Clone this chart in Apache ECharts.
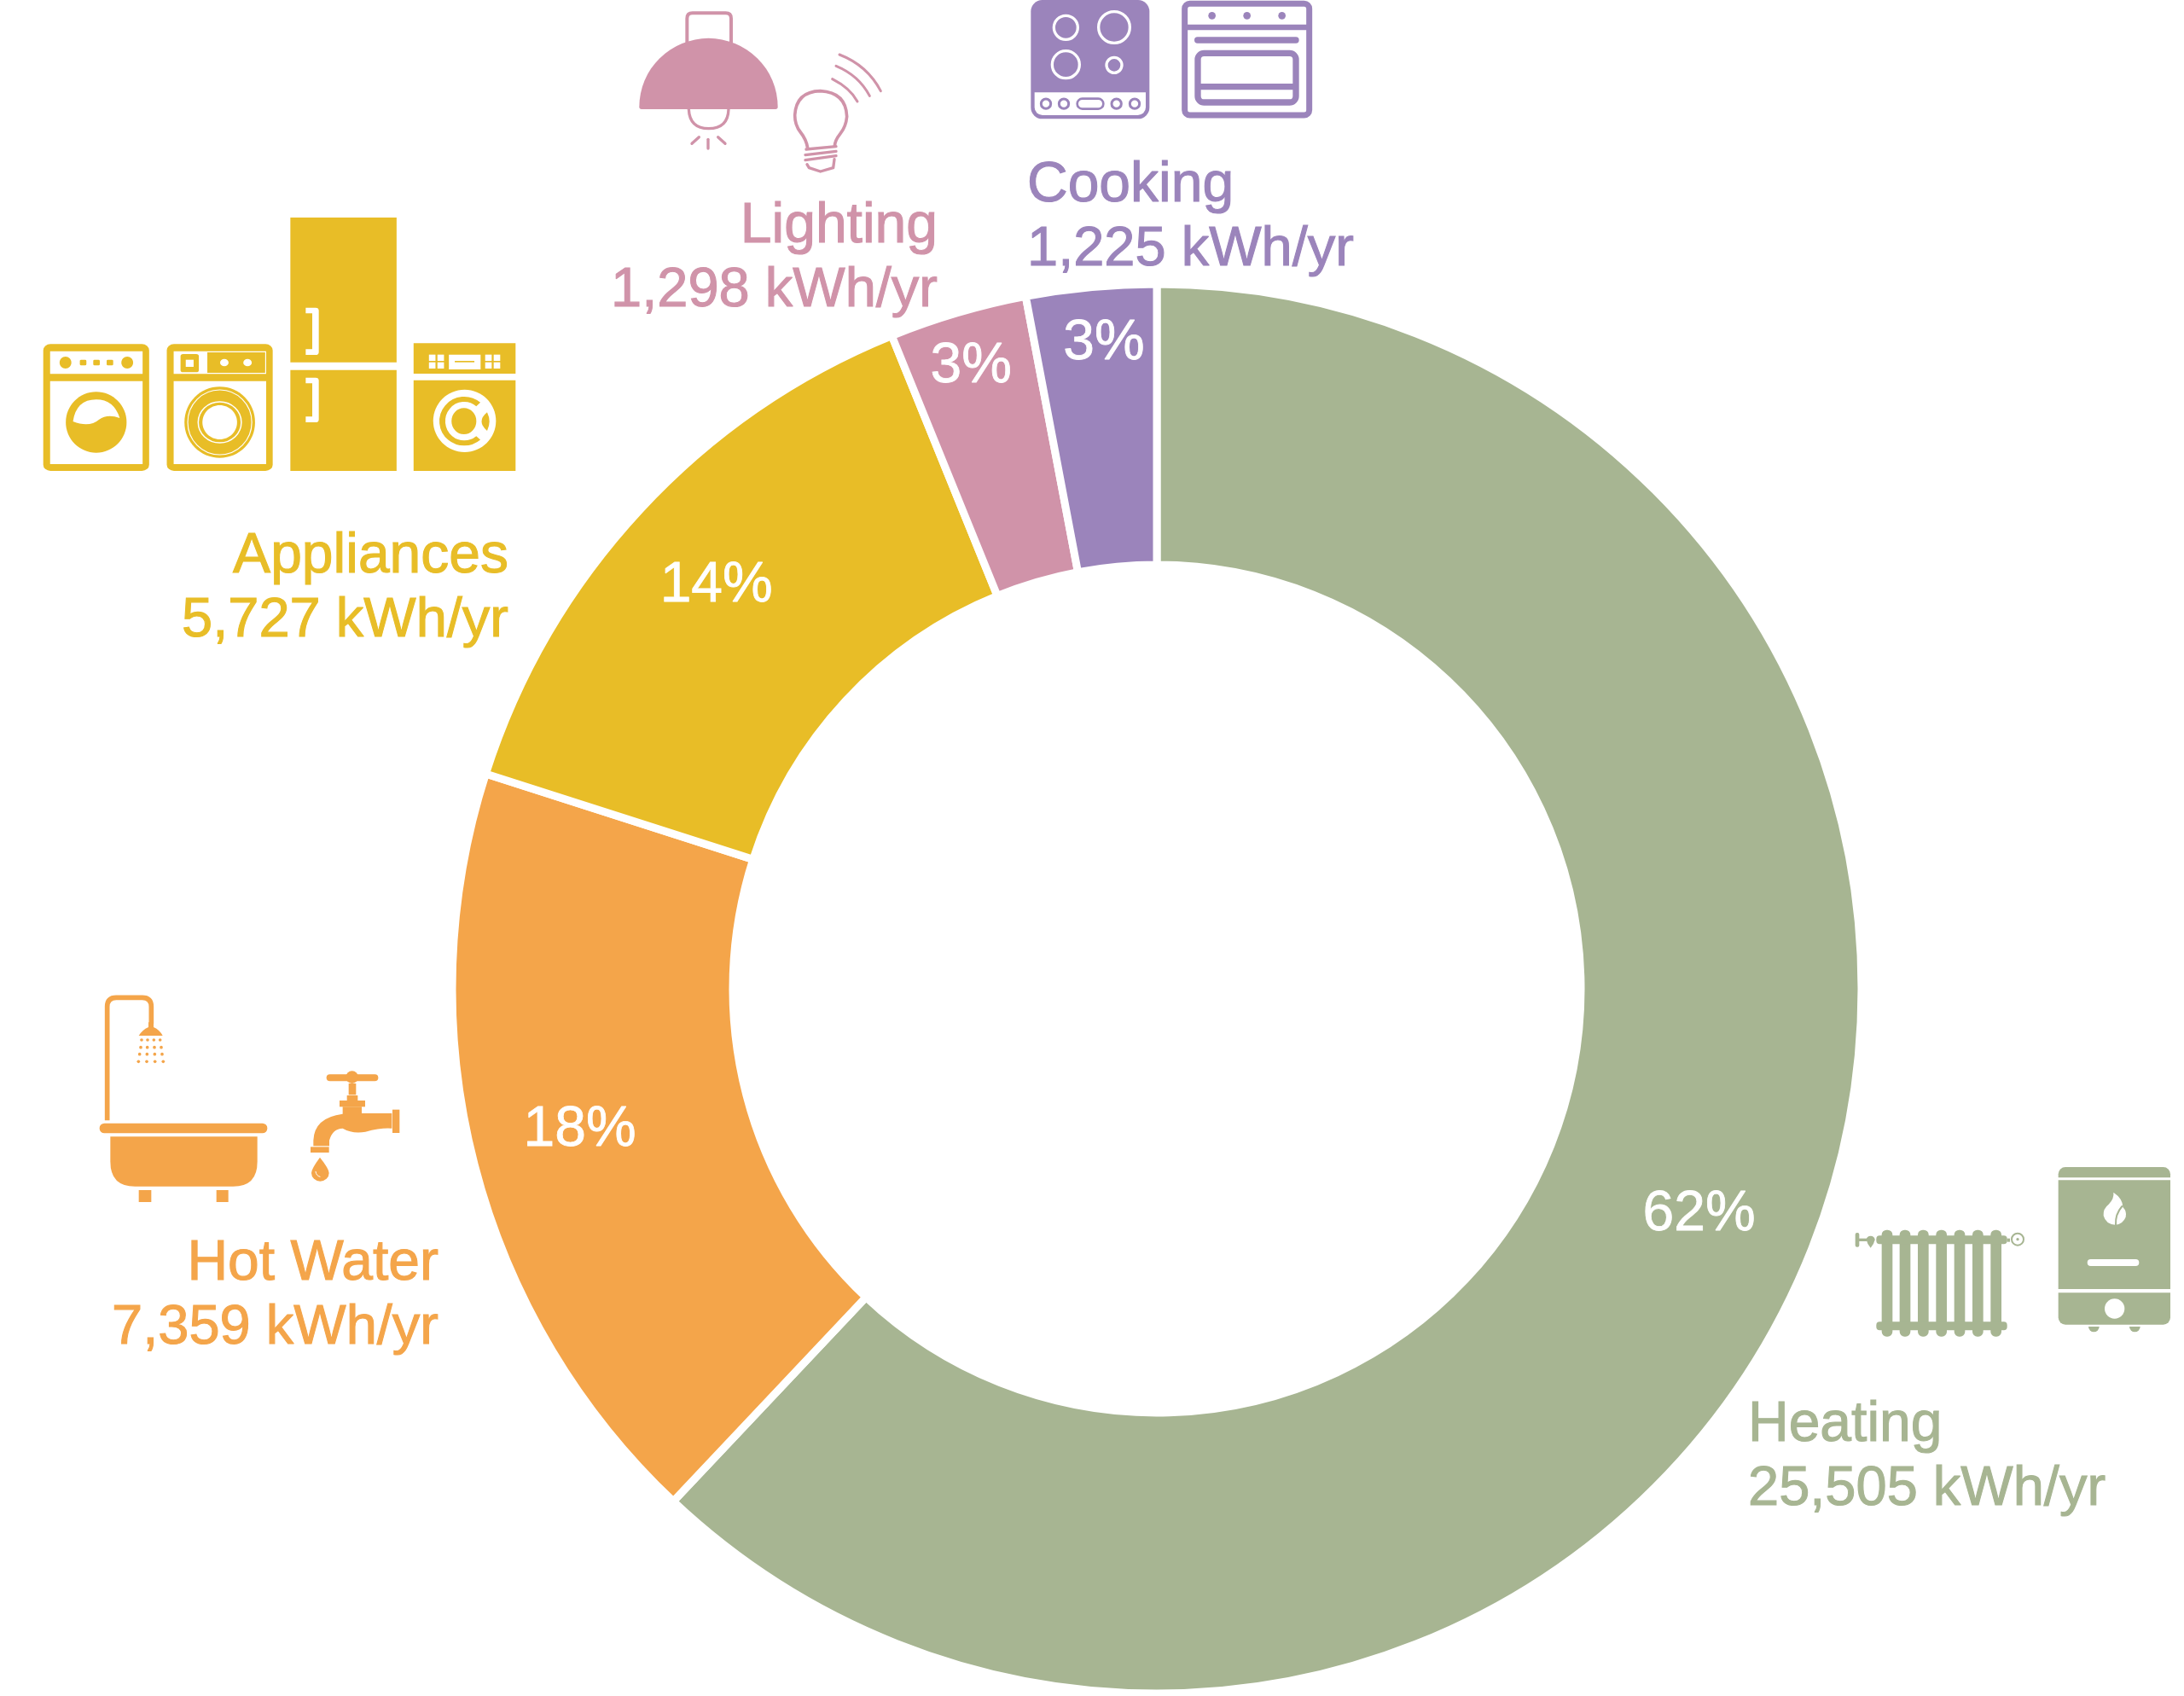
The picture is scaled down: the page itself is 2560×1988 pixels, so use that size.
<!DOCTYPE html>
<html><head><meta charset="utf-8">
<script src="https://cdn.jsdelivr.net/npm/echarts@6/dist/echarts.min.js"></script>
<style>html,body{margin:0;padding:0;background:#fff}#c{width:2560px;height:1988px}</style>
</head><body><div id="c"></div>
<script>
const categories = ['Heating', 'Hot Water', 'Appliances', 'Lighting', 'Cooking'];
const kwhPerYear = [25505, 7359, 5727, 1298, 1225];
const colors = ['#A7B592', '#F4A54A', '#E8BD27', '#D093A9', '#9B84BB'];
const unit = 'kWh/yr';

const labelShift = [[18, 20], [-33, 0], [-29, -20], [-30, -92], [0, -95]];
const nameLayout = [
  {x: 2049, base: 1692, align: 'left'},
  {x: 514, base: 1503, align: 'right'},
  {x: 596, base: 674, align: 'right'},
  {x: 1099, base: 287, align: 'right'},
  {x: 1204, base: 239, align: 'left'}
];
const FONT = '"Liberation Sans", Arial, sans-serif';
const WHITE = '#ffffff';

/* ---- small drawing helpers for the pictograms ---- */
let pathId = 0;
function P(d, style) {
  const name = 'iconPath' + (pathId++);
  echarts.graphic.registerShape(name, echarts.graphic.extendPath(d, {}));
  return {type: name, shape: {}, style: style};
}
const fillP = (d, c) => P(d, {fill: c});
const lineP = (d, c, w, cap) => P(d, {fill: 'none', stroke: c, lineWidth: w, lineCap: cap || 'round', lineJoin: 'round'});
const R = (x, y, w, h, c, r) => ({type: 'rect', shape: {x, y, width: w, height: h, r: r || 0}, style: {fill: c}});
const RS = (x, y, w, h, c, lw, r, f) => ({type: 'rect', shape: {x, y, width: w, height: h, r: r || 0}, style: {fill: f || 'none', stroke: c, lineWidth: lw}});
const C = (cx, cy, r, c) => ({type: 'circle', shape: {cx, cy, r}, style: {fill: c}});
const CS = (cx, cy, r, c, lw, f) => ({type: 'circle', shape: {cx, cy, r}, style: {fill: f || 'none', stroke: c, lineWidth: lw}});
const E = (cx, cy, rx, ry, c) => ({type: 'ellipse', shape: {cx, cy, rx, ry}, style: {fill: c}});
const ES = (cx, cy, rx, ry, c, lw) => ({type: 'ellipse', shape: {cx, cy, rx, ry}, style: {fill: 'none', stroke: c, lineWidth: lw}});
const G = (x, y, sx, sy, children) => ({type: 'group', x, y, scaleX: sx, scaleY: sy, children});

/* ---- Cooking ---- */
function cookingIcons(c) {
  const ch = [
    R(175, 0, 417, 418, c, 40),
    R(188, 325, 391, 80, WHITE, [0, 0, 28, 28]),
    CS(298, 97, 42, WHITE, 10), CS(468, 96, 55, WHITE, 10), CS(298, 227, 48, WHITE, 10), CS(468, 229, 27, WHITE, 10)
  ];
  [228, 291, 476, 540].forEach(x => ch.push(CS(x, 365, 17, c, 9, WHITE)));
  ch.push(RS(338, 347, 92, 36, c, 8, 18, WHITE));
  ch.push(RS(716, 13, 438, 392, c, 21, 18));
  ch.push(R(716, 86, 438, 20, c));
  [812, 935, 1058].forEach(x => ch.push(C(x, 55, 13, c)));
  ch.push(R(750, 130, 368, 22, c, 11));
  ch.push(RS(762, 187, 345, 173, c, 22, 22));
  ch.push(R(762, 294, 345, 22, c));
  return G(1150, 0, 1 / 3, 1 / 3, ch);
}

/* ---- Hot water ---- */
function waterIcons(c) {
  const ch = [
    lineP('M77 520 V120 Q77 88 109 88 H200 Q232 88 232 120 V180', c, 17, 'butt'),
    fillP('M188 222 Q200 202 222 192 L222 175 L240 175 L240 192 Q262 202 272 222 Z', c),
    R(50, 530, 590, 35, c, 17),
    fillP('M88 577 H605 V665 Q605 752 520 752 H175 Q88 752 88 665 Z', c),
    R(188, 765, 44, 42, c), R(461, 765, 42, 42, c),
    R(848, 358, 182, 24, c, 12), C(938, 368, 22, c), R(926, 390, 26, 40, c),
    R(920, 432, 38, 20, c), R(894, 450, 90, 22, c),
    fillP('M905 472 H972 V495 H1078 V548 Q1040 545 985 560 Q940 568 905 548 Q870 548 858 590 V610 H802 V590 Q805 510 905 497 Z', c),
    R(1080, 482, 25, 82, c), R(792, 613, 65, 20, c),
    fillP('M825 650 Q795 690 795 705 A30 28 0 0 0 857 705 Q857 690 825 650 Z', c),
    lineP('M810 700 Q812 715 825 718', WHITE, 3)
  ];
  [[237, [198, 219, 241, 263]], [263, [195, 218, 243, 267]], [287, [191, 217, 244, 270]], [313, [187, 216, 245, 274]]]
    .forEach(row => row[1].forEach(x => ch.push(C(x, row[0], 5.5, c))));
  return G(100, 1140, 1 / 3, 1 / 3, ch);
}

/* ---- Heating ---- */
function heatingIcons(c) {
  const ch = [];
  [497, 560, 624, 688, 752, 816, 880].forEach(x => ch.push(R(x, 305, 38, 375, c, 17)));
  ch.push(R(478, 325, 460, 30, c, 12), R(478, 628, 460, 30, c, 12));
  ch.push(R(404, 315, 14, 50, c, 6), R(415, 335, 30, 10, c));
  ch.push(fillP('M443 340 A15 14 0 0 1 473 340 Q470 355 458 368 Q446 355 443 340 Z', c));
  ch.push(R(938, 335, 10, 12, c), CS(975, 338, 21, c, 6), C(975, 338, 5, c));
  ch.push(R(1118, 84, 394, 37, c, [25, 25, 0, 0]), R(1118, 130, 394, 383, c), R(1118, 526, 394, 112, c, [0, 0, 25, 25]));
  ch.push(fillP('M1312 173 Q1345 195 1345 225 Q1360 240 1355 260 Q1345 285 1318 287 Q1285 285 1277 255 Q1275 230 1295 215 Q1315 195 1312 173 Z', WHITE));
  ch.push(lineP('M1342 222 Q1318 250 1320 287', c, 6));
  ch.push(R(1220, 408, 182, 24, WHITE, 12), C(1316, 582, 35, WHITE));
  ch.push(fillP('M1224 645 A19 19 0 0 0 1262 645 Z', c), fillP('M1368 645 A19 19 0 0 0 1406 645 Z', c));
  return G(2040, 1340, 1 / 3, 1 / 3, ch);
}

/* ---- Appliances ---- */
function applianceIcons(c) {
  const ch = [
    R(54, 490, 324, 446, c, 22), R(75, 515, 283, 80, WHITE), R(75, 620, 283, 292, WHITE),
    E(122, 555, 18, 21, c), R(166, 545, 20, 20, c, 4), R(207, 545, 20, 20, c, 4), R(248, 545, 20, 20, c, 4), E(311, 555, 18, 21, c),
    E(216, 765, 93, 107, c),
    fillP('M145 762 Q155 685 216 685 Q270 685 288 750 Q250 735 225 755 Q195 785 145 762 Z', WHITE),

    R(432, 490, 324, 446, c, 22), R(453, 515, 283, 80, WHITE), R(453, 620, 283, 292, WHITE),
    R(474, 525, 56, 64, c, 8), R(490, 545, 24, 25, WHITE),
    R(556, 519, 177, 72, c), C(608, 555, 13, WHITE), C(679, 555, 13, WHITE),
    E(594, 765, 108, 125, c), ES(594, 765, 98, 114, WHITE, 3), ES(594, 765, 66, 72, WHITE, 4), E(594, 765, 53, 60, WHITE),

    R(810, 45, 325, 509, c), R(810, 581, 325, 355, c),
    lineP('M857 372 H887 V518 H857', WHITE, 20, 'butt'), lineP('M857 618 H887 V755 H857', WHITE, 20, 'butt'),

    R(1187, 487, 312, 107, c), R(1187, 617, 312, 319, c)
  ];
  [1234, 1260, 1406, 1432].forEach(x => [527, 554].forEach(y => ch.push(R(x, y, 20, 22, WHITE))));
  ch.push(R(1295, 527, 97, 52, WHITE), R(1313, 549, 60, 5, c));
  ch.push(E(1343, 760, 96, 110, WHITE));
  ch.push(lineP('M1385 702 A67 77 0 1 0 1385 820', c, 18, 'butt'));
  ch.push(E(1341, 761, 38, 46, c));
  ch.push(fillP('M1412 730 Q1378 762 1412 795 Q1426 762 1412 730 Z', c));
  return G(30, 240, 1 / 2.61, 1 / 3, ch);
}

/* ---- Lighting ---- */
function lightingIcons(c) {
  const ch = [
    lineP('M226 150 V65 Q226 46 245 46 H362 Q381 46 381 65 V150', c, 12, 'butt'),
    fillP('M58 376 A243 241 0 0 1 545 376 Q545 384 537 384 H66 Q58 384 58 376 Z', c),
    lineP('M232 384 Q235 452 302 452 Q370 452 372 384', c, 10, 'butt'),
    lineP('M243 505 L268 482', c, 10), lineP('M300 490 V522', c, 10), lineP('M335 482 L360 505', c, 10),
    lineP('M650 520 Q645 490 625 465 Q605 440 605 405 Q610 322 695 320 Q785 325 788 410 Q785 445 765 470 Q745 495 745 515', c, 11, 'butt'),
    lineP('M645 525 L750 515', c, 10), lineP('M642 545 L750 532', c, 10), lineP('M642 563 L750 548', c, 10),
    lineP('M648 578 L655 590 L695 603 L740 590 L744 560', c, 10),
    lineP('M737 278 Q800 310 825 357', c, 9), lineP('M750 232 Q830 265 868 337', c, 9), lineP('M762 192 Q860 230 907 320', c, 9)
  ];
  return G(730, 0, 1 / 3, 1 / 3, ch);
}

/* ---- category captions: name line and value line ---- */
const captionLine = (text, i, y, size) => ({
  type: 'text',
  x: nameLayout[i].x,
  y: y,
  style: {
    text: text,
    fill: colors[i],
    stroke: colors[i],
    lineWidth: 1.1,
    font: size + 'px ' + FONT,
    lineHeight: 77,
    textAlign: nameLayout[i].align,
    textVerticalAlign: 'top'
  }
});
const captions = [];
categories.forEach((name, i) => {
  captions.push(captionLine(name, i, nameLayout[i].base - 60, 66));
  captions.push(captionLine(kwhPerYear[i].toLocaleString('en-US') + ' ' + unit, i, nameLayout[i].base + 16, 65));
});

const chart = echarts.init(document.getElementById('c'), null, {renderer: 'canvas', width: 2560, height: 1988});
chart.setOption({
  animation: false,
  backgroundColor: WHITE,
  series: [{
    type: 'pie',
    center: [1356, 1159],
    radius: [497, 826],
    startAngle: 90,
    clockwise: true,
    silent: true,
    itemStyle: {borderColor: WHITE, borderWidth: 9},
    label: {
      show: true,
      position: 'inside',
      color: WHITE,
      fontFamily: FONT,
      fontSize: 66,
      textBorderColor: WHITE,
      textBorderWidth: 0.8,
      formatter: p => Math.round(p.percent) + '%'
    },
    labelLine: {show: false},
    labelLayout: p => ({dx: labelShift[p.dataIndex][0], dy: labelShift[p.dataIndex][1]}),
    data: categories.map((name, i) => ({name, value: kwhPerYear[i], itemStyle: {color: colors[i]}}))
  }],
  graphic: {elements: [
    heatingIcons(colors[0]), waterIcons(colors[1]), applianceIcons(colors[2]), lightingIcons(colors[3]), cookingIcons(colors[4])
  ].concat(captions)}
});
</script></body></html>
